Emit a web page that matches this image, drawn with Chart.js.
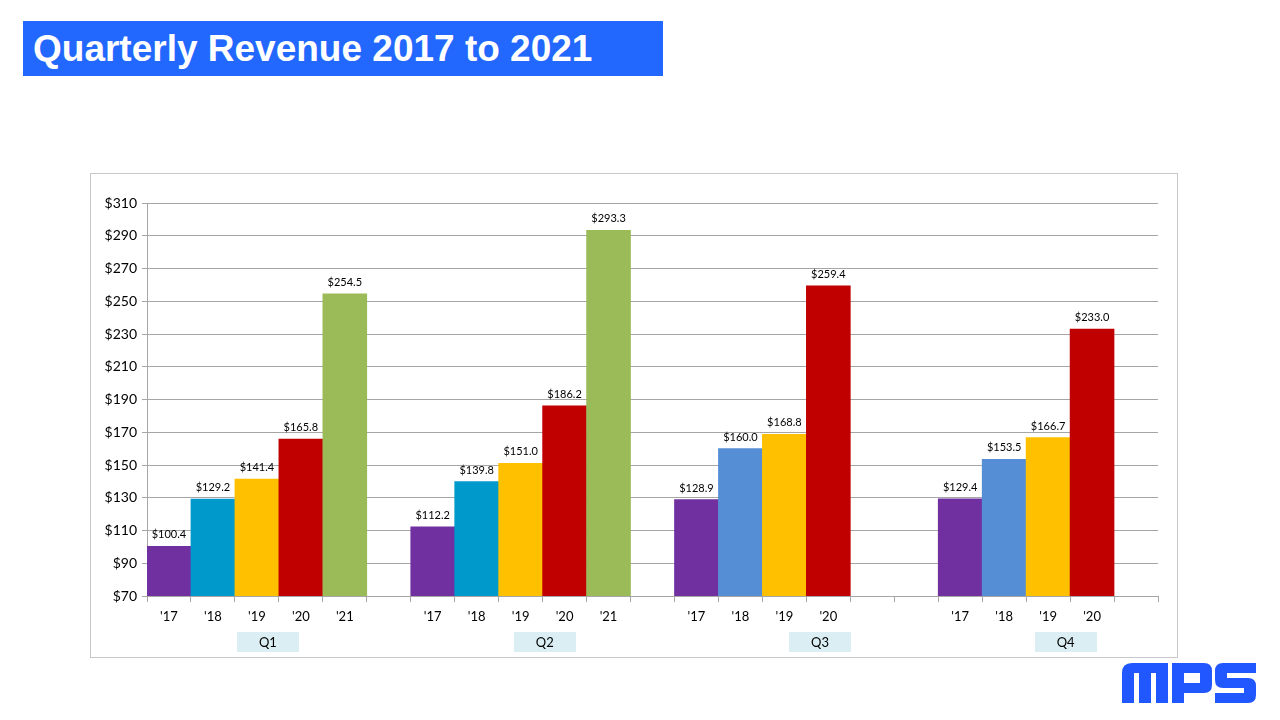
<!DOCTYPE html>
<html>
<head>
<meta charset="utf-8">
<script src="https://cdn.jsdelivr.net/npm/chart.js@4/dist/chart.umd.min.js"></script>
<style>
  html, body { margin:0; padding:0; background:#fff; }
  body { width:1280px; height:720px; position:relative; overflow:hidden; }
  #title { position:absolute; left:23px; top:21px; width:640px; height:55px; background:#2268FF;
           color:#fff; font-family:"Liberation Sans", Arial, sans-serif; font-weight:bold; font-size:37px;
           line-height:55px; padding-left:10px; box-sizing:border-box; white-space:nowrap; }
  #frame { position:absolute; left:90px; top:173px; width:1088px; height:485px; border:1px solid #c8c8c8; box-sizing:border-box; }
  #c { position:absolute; left:0; top:0; }
  #logo { position:absolute; left:1122px; top:663px; }
</style>
</head>
<body>
<div id="title">Quarterly Revenue 2017 to 2021</div>
<div id="frame"></div>
<canvas id="c" width="1280" height="720"></canvas>
<svg id="logo" width="134" height="40" viewBox="0 0 134 40">
  <g fill="#2157FF">
    <path d="M0 10 Q0 0 10 0 L46 0 L46 40 L34 40 L34 10 L29 10 L29 40 L17 40 L17 10 L12 10 L12 40 L0 40 Z"/>
    <path fill-rule="evenodd" d="M50 0 L82 0 Q90 0 90 8 L90 22 Q90 30 82 30 L62 30 L62 40 L50 40 Z M62 10 L62 20 L78 20 L78 10 Z"/>
    <path d="M101 0 L134 0 L134 10 L105 10 L105 15 L126 15 Q134 15 134 23 L134 32 Q134 40 126 40 L93 40 L93 30 L122 30 L122 25 L101 25 Q93 25 93 17 L93 8 Q93 0 101 0 Z"/>
  </g>
</svg>
<script>
// ---- data ----
const xLabels = ["'17","'18","'19","'20","'21","",
                 "'17","'18","'19","'20","'21","",
                 "'17","'18","'19","'20","","",
                 "'17","'18","'19","'20",""];
const q1Values = [100.4, 129.2, 141.4, 165.8, 254.5];
const q2Values = [112.2, 139.8, 151.0, 186.2, 293.3];
const q3Values = [128.9, 160.0, 168.8, 259.4];
const q4Values = [129.4, 153.5, 166.7, 233.0];
const quarterNames = ["Q1", "Q2", "Q3", "Q4"];
const yTickValues = [70, 90, 110, 130, 150, 170, 190, 210, 230, 250, 270, 290, 310];

const C17 = '#7030A0', C18a = '#0099CC', C18b = '#558ED5', C19 = '#FFC000', C20 = '#C00000', C21 = '#9BBB59';
const q1Colors = [C17, C18a, C19, C20, C21];
const q2Colors = [C17, C18a, C19, C20, C21];
const q3Colors = [C17, C18b, C19, C20];
const q4Colors = [C17, C18b, C19, C20];

const values = [...q1Values, null, ...q2Values, null, ...q3Values, null, null, ...q4Values, null];
const colors = [...q1Colors, '#fff', ...q2Colors, '#fff', ...q3Colors, '#fff', '#fff', ...q4Colors, '#fff'];

// quarter label centre positions, in slot units from the left edge of the x scale
const quarterSlotPos = [2.75, 9.05, 15.31, 20.9];

const FONT = 'Lato, "Open Sans", sans-serif';
const GRID = '#a6a6a6';

const valueLabels = {
  id: 'valueLabels',
  afterDatasetsDraw(chart) {
    const ctx = chart.ctx;
    const meta = chart.getDatasetMeta(0);
    ctx.save();
    ctx.font = '11px ' + FONT;
    ctx.fillStyle = '#000';
    ctx.textAlign = 'center';
    ctx.textBaseline = 'bottom';
    meta.data.forEach((el, i) => {
      const v = values[i];
      if (v == null) return;
      ctx.fillText('$' + v.toFixed(1), el.x, el.y - 6);
    });
    ctx.restore();
  }
};

const quarterBoxes = {
  id: 'quarterBoxes',
  afterDraw(chart) {
    const ctx = chart.ctx;
    const xs = chart.scales.x;
    const slot = (xs.right - xs.left) / xLabels.length;
    ctx.save();
    ctx.font = '13px ' + FONT;
    ctx.textAlign = 'center';
    ctx.textBaseline = 'middle';
    quarterNames.forEach((q, i) => {
      const cx = xs.left + quarterSlotPos[i] * slot;
      const top = xs.bottom + 6;
      ctx.fillStyle = '#DAEEF3';
      ctx.fillRect(Math.round(cx - 31), top, 62, 20);
      ctx.fillStyle = '#000';
      ctx.fillText(q, cx, top + 10.5);
    });
    ctx.restore();
  }
};

new Chart(document.getElementById('c'), {
  type: 'bar',
  data: {
    labels: xLabels,
    datasets: [{
      data: values,
      backgroundColor: colors,
      borderWidth: 0,
      barPercentage: 1.0,
      categoryPercentage: 1.0
    }]
  },
  options: {
    responsive: false,
    animation: false,
    devicePixelRatio: 1,
    layout: { padding: { left: 90, right: 122, top: 203, bottom: 94 } },
    plugins: { legend: { display: false }, tooltip: { enabled: false } },
    scales: {
      x: {
        offset: true,
        grid: { offset: true, drawOnChartArea: false, drawTicks: true, tickLength: 6, color: GRID },
        border: { display: true, color: GRID, width: 1 },
        ticks: { color: '#000', font: { family: FONT, size: 13 }, padding: 7, maxRotation: 0, autoSkip: false },
        afterFit(s) { s.height = 30; }
      },
      y: {
        min: 70, max: 310,
        afterBuildTicks(s) { s.ticks = yTickValues.map(v => ({ value: v })); },
        grid: { color: GRID, tickLength: 5, lineWidth: 1 },
        border: { display: true, color: GRID, width: 1 },
        ticks: { color: '#000', font: { family: FONT, size: 14 }, padding: 5, callback: v => '$' + v },
        afterFit(s) { s.width = 57; }
      }
    }
  },
  plugins: [valueLabels, quarterBoxes]
});
</script>
</body>
</html>
